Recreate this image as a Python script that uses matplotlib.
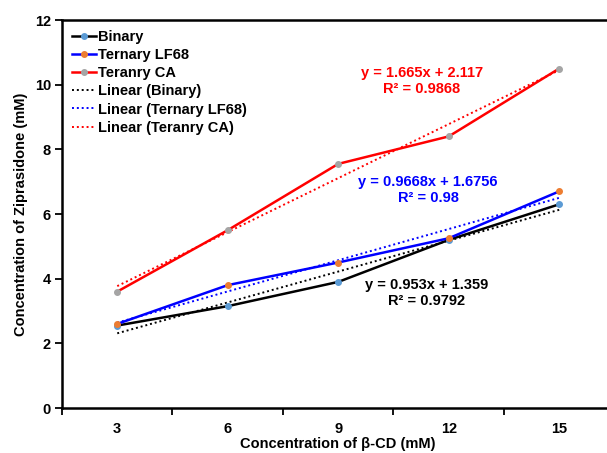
import numpy as np
import matplotlib
matplotlib.use("Agg")
import matplotlib.pyplot as plt

plt.rcParams['font.family'] = ['Liberation Sans', 'DejaVu Sans']
plt.rcParams['font.weight'] = 'bold'

categories = ["3", "6", "9", "12", "15"]
binary = [2.55, 3.15, 3.9, 5.2, 6.3]
ternary_lf68 = [2.6, 3.8, 4.5, 5.25, 6.7]
ternary_ca = [3.6, 5.5, 7.55, 8.4, 10.5]

names = ["Binary", "Ternary LF68", "Teranry CA"]
line_colors = ["black", "#0000FF", "#FF0000"]
marker_colors = ["#5B9BD5", "#ED7D31", "#A5A5A5"]
equations = ["y = 0.953x + 1.359\nR² = 0.9792",
             "y = 0.9668x + 1.6756\nR² = 0.98",
             "y = 1.665x + 2.117\nR² = 0.9868"]
label_pos = [(427, 293), (428, 190), (422, 81)]

W, H = 607, 453
fig = plt.figure(figsize=(W / 100, H / 100), dpi=100)
axw = 614.5 - 62
ax = fig.add_axes([62 / W, 1 - 408 / H, axw / W, (408 - 20) / H])

x = np.arange(1, len(categories) + 1)
series = [binary, ternary_lf68, ternary_ca]
for y, name, lc, mc in zip(series, names, line_colors, marker_colors):
    ax.plot(x, y, color=lc, lw=1.8, marker="o", ms=4, mfc=mc, mec=mc, label=name, zorder=3)
for y, name, lc in zip(series, names, line_colors):
    k, b = np.polyfit(x, y, 1)
    ax.plot(x, k * x + b, color=lc, lw=1.4, ls=(0, (1, 1.5)), label="Linear (%s)" % name, zorder=2)

for (px, py), txt, lc in zip(label_pos, equations, line_colors):
    fig.text(px / W, 1 - py / H, txt, color=lc, fontsize=10.5, fontweight="bold",
             ha="center", va="center", linespacing=1.15)

ax.set_xlim(0.5, 5.5)
ax.set_ylim(0, 12)
ax.set_xticks(x)
ax.set_xticklabels(categories)
ax.set_xticks(np.arange(0.5, 6, 1), minor=True)
ax.tick_params(axis="x", which="major", length=0, pad=10, labelsize=10.5)
ax.tick_params(axis="x", which="minor", length=5, width=1.3, direction="out")
ax.set_yticks(np.arange(0, 13, 2))
ax.tick_params(axis="y", length=5, width=1.3, direction="out", labelsize=10.5, pad=3)
for s in ax.spines.values():
    s.set_linewidth(1.8)

ax.set_xlabel("Concentration of β-CD (mM)", fontsize=10.5, fontweight="bold", labelpad=1)
ax.set_ylabel("Concentration of Ziprasidone (mM)", fontsize=10.5, fontweight="bold")
ax.yaxis.set_label_coords(-34 / axw, 0.5)

leg = ax.legend(loc="upper left", bbox_to_anchor=(0.0, 1.0), frameon=False, fontsize=10.5,
                handlelength=1.6, handletextpad=0.2, labelspacing=0.28, borderaxespad=0.3)

plt.savefig("out.png", dpi=100)
